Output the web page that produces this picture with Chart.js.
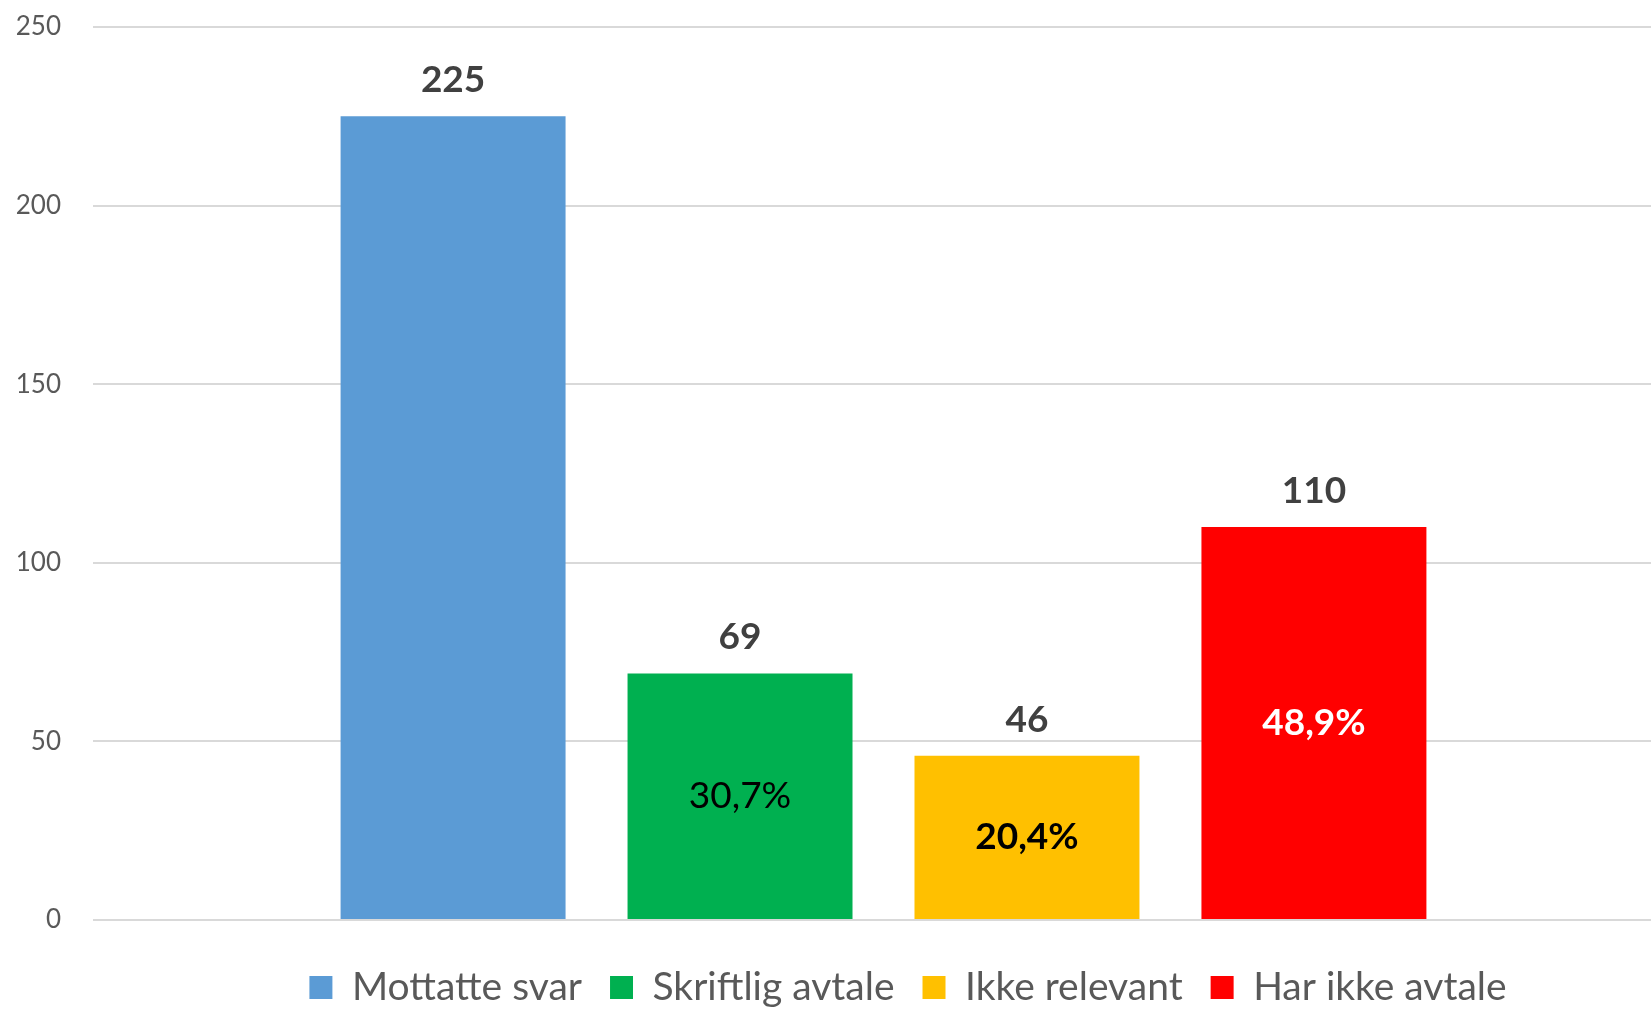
<!DOCTYPE html>
<html>
<head>
<meta charset="utf-8">
<script src="https://cdn.jsdelivr.net/npm/chart.js@4.4.1/dist/chart.umd.min.js"></script>
<style>
  html, body { margin: 0; padding: 0; background: #fff; overflow: hidden; }
  #wrap { width: 1816px; height: 1009px; }
</style>
</head>
<body>
<div id="wrap"><canvas id="chart"></canvas></div>
<script>
const categories = ['Mottatte svar', 'Skriftlig avtale', 'Ikke relevant', 'Har ikke avtale'];
const values = [225, 69, 46, 110];
const shares = ['', '30,7%', '20,4%', '48,9%'];
const yTicks = [0, 50, 100, 150, 200, 250];

const colors = ['#5B9BD5', '#00B050', '#FFC000', '#FF0000'];
const shareColors = ['#000', '#000', '#000', '#fff'];
const shareWeights = ['normal', 'normal', 'bold', 'bold'];
const FONT = 'Lato, "Open Sans", sans-serif';

// value above each bar, share inside it
const barLabels = {
  id: 'barLabels',
  afterDatasetsDraw(chart) {
    const ctx = chart.ctx;
    ctx.save();
    ctx.textAlign = 'center';
    ctx.textBaseline = 'middle';
    chart.data.datasets.forEach((ds, i) => {
      const bar = chart.getDatasetMeta(i).data[0];
      ctx.fillStyle = '#404040';
      ctx.font = 'bold 37px ' + FONT;
      ctx.fillText(String(ds.data[0]), bar.x, bar.y - 36);
      if (shares[i]) {
        ctx.fillStyle = shareColors[i];
        ctx.font = shareWeights[i] + ' 37px ' + FONT;
        ctx.fillText(shares[i], bar.x, (bar.y + bar.base) / 2);
      }
    });
    ctx.restore();
  }
};

new Chart(document.getElementById('chart'), {
  type: 'bar',
  data: {
    labels: [''],
    datasets: categories.map((name, i) => ({
      label: name,
      data: [values[i]],
      backgroundColor: colors[i],
      categoryPercentage: 0.726,
      barPercentage: 0.784
    }))
  },
  options: {
    responsive: true,
    maintainAspectRatio: false,
    animation: false,
    layout: { padding: { top: 27, left: 0, right: 0, bottom: -8 } },
    plugins: {
      legend: {
        position: 'bottom',
        labels: {
          boxWidth: 23,
          boxHeight: 23,
          padding: 28,
          color: '#595959',
          font: { family: FONT, size: 39 }
        }
      },
      tooltip: { enabled: false }
    },
    scales: {
      x: {
        afterFit(scale) { scale.height = 20; },
        ticks: { display: false },
        grid: { display: false },
        border: { display: false }
      },
      y: {
        min: 0,
        max: 250,
        afterBuildTicks(scale) { scale.ticks = yTicks.map(v => ({ value: v })); },
        afterFit(scale) { scale.width = 93; scale.paddingTop = 0; },
        ticks: {
          padding: 32,
          color: '#595959',
          font: { family: FONT, size: 26 }
        },
        grid: { color: '#D9D9D9', lineWidth: 2, drawTicks: false },
        border: { display: false }
      },
      spacer: {
        position: 'right',
        display: true,
        afterFit(scale) { scale.width = 142; scale.paddingTop = 0; },
        ticks: { display: false },
        grid: { display: false },
        border: { display: false }
      }
    }
  },
  plugins: [barLabels]
});
</script>
</body>
</html>
